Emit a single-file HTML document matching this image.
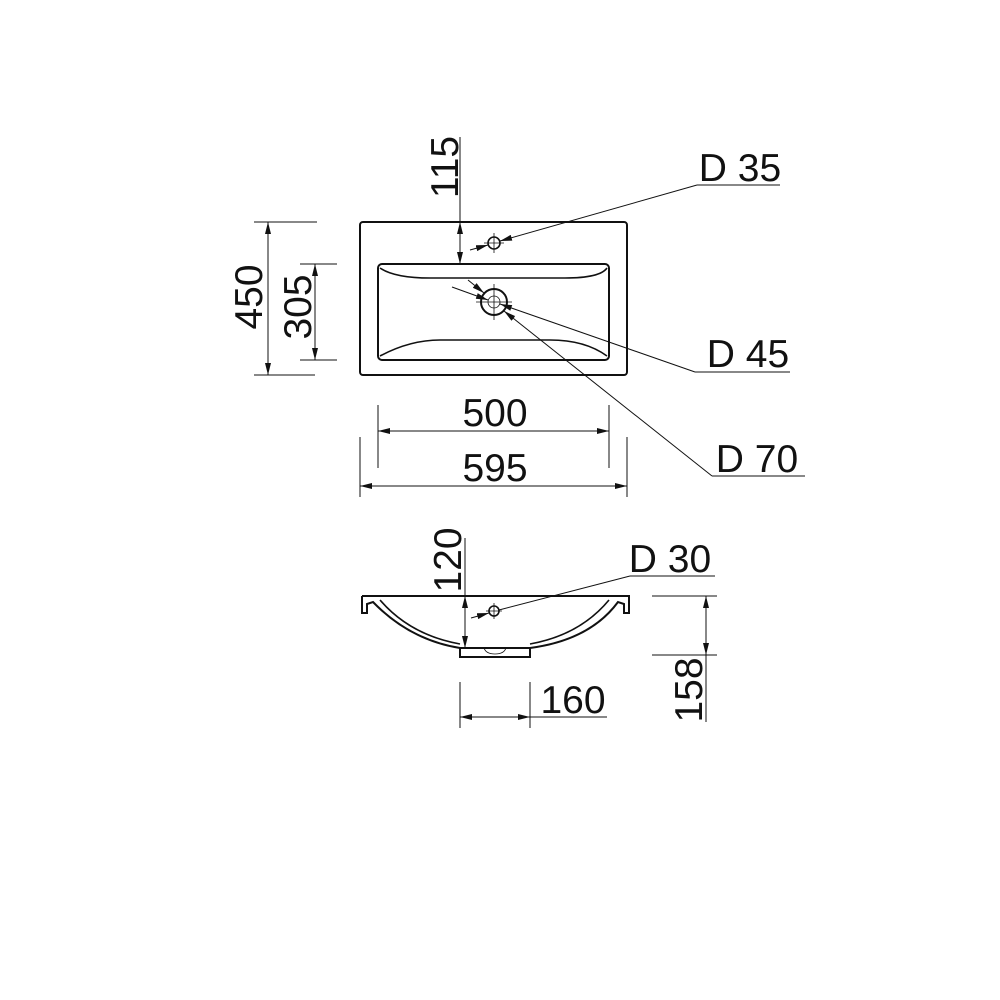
<!DOCTYPE html>
<html><head><style>
html,body{margin:0;padding:0;background:#fff;}
svg{display:block}
text{font-family:"Liberation Sans",sans-serif;fill:#111;}
</style></head><body>
<svg width="1000" height="1000" viewBox="0 0 1000 1000" xmlns="http://www.w3.org/2000/svg">
<defs>
<marker id="a" viewBox="0 0 12 6" refX="12" refY="3" markerWidth="12" markerHeight="6" orient="auto-start-reverse" markerUnits="userSpaceOnUse">
<path d="M0,0 L12,3 L0,6 z" fill="#111"/>
</marker>
</defs>
<g fill="none" stroke="#111">
<!-- top view -->
<rect x="360" y="222" width="267" height="153" rx="3" stroke-width="2"/>
<rect x="378" y="264" width="231" height="96" rx="4" stroke-width="2"/>
<path d="M380,268 Q395,278 430,278 L565,278 Q600,278 607,268" stroke-width="1.6"/>
<path d="M380,356 Q410,340 440,340 L550,340 Q585,340 607,356" stroke-width="1.6"/>
<circle cx="494" cy="243" r="6" stroke-width="1.6"/>
<path d="M484,243 H504 M494,233 V253" stroke-width="0.8"/>
<circle cx="494" cy="302" r="13" stroke-width="2"/>
<circle cx="494" cy="302" r="6" stroke-width="0.8"/>
<path d="M476,302 H512 M494,284 V320" stroke-width="0.8"/>
<!-- 450 -->
<path d="M254,222 H317 M254,375 H315" stroke-width="1"/>
<line x1="268" y1="222" x2="268" y2="375" stroke-width="1" marker-start="url(#a)" marker-end="url(#a)"/>
<!-- 305 -->
<path d="M300,264 H337 M300,360 H337" stroke-width="1"/>
<line x1="315" y1="264" x2="315" y2="360" stroke-width="1" marker-start="url(#a)" marker-end="url(#a)"/>
<!-- 115 -->
<line x1="460" y1="137" x2="460" y2="222" stroke-width="1"/>
<line x1="460" y1="222" x2="460" y2="264" stroke-width="1" marker-start="url(#a)" marker-end="url(#a)"/>
<!-- 500 -->
<path d="M378,405 V468 M609,405 V468" stroke-width="1"/>
<line x1="378" y1="431" x2="609" y2="431" stroke-width="1" marker-start="url(#a)" marker-end="url(#a)"/>
<!-- 595 -->
<path d="M360,437 V497 M627,437 V497" stroke-width="1"/>
<line x1="360" y1="486" x2="627" y2="486" stroke-width="1" marker-start="url(#a)" marker-end="url(#a)"/>
<!-- D35 -->
<path d="M697,185 H780" stroke-width="1"/>
<line x1="697" y1="185" x2="500" y2="241" stroke-width="1" marker-end="url(#a)"/>
<line x1="470" y1="250" x2="488" y2="245" stroke-width="1" marker-end="url(#a)"/>
<!-- D45 -->
<path d="M695,372 H790" stroke-width="1"/>
<line x1="695" y1="372" x2="500" y2="304" stroke-width="1" marker-end="url(#a)"/>
<line x1="452" y1="287" x2="488" y2="300" stroke-width="1" marker-end="url(#a)"/>
<!-- D70 -->
<path d="M712,476 H805" stroke-width="1"/>
<line x1="712" y1="476" x2="504" y2="311" stroke-width="1" marker-end="url(#a)"/>
<line x1="468" y1="280" x2="484" y2="293" stroke-width="1" marker-end="url(#a)"/>
<!-- side view -->
<path d="M362,596 H629 V613 H624 V604 L618,602 Q590,640 530,648 M362,596 V613 H367 V604 L373,602 Q410,640 460,648" stroke-width="2"/>
<path d="M380,600 Q410,635 460,644 M609,600 Q580,635 530,644" stroke-width="1.6"/>
<rect x="460" y="648" width="70" height="9" stroke-width="2"/>
<path d="M484,648 Q486,654 495,654 Q504,654 506,648" stroke-width="0.8"/>
<circle cx="494" cy="611" r="5" stroke-width="1.6"/>
<path d="M486,611 H502 M494,603 V619" stroke-width="0.8"/>
<!-- 120 -->
<line x1="465" y1="538" x2="465" y2="596" stroke-width="1"/>
<line x1="465" y1="596" x2="465" y2="648" stroke-width="1" marker-start="url(#a)" marker-end="url(#a)"/>
<!-- D30 -->
<path d="M630,576 H715" stroke-width="1"/>
<line x1="630" y1="576" x2="499" y2="610" stroke-width="1"/>
<line x1="471" y1="618" x2="489" y2="613" stroke-width="1" marker-end="url(#a)"/>
<!-- 158 -->
<path d="M652,596 H717 M652,655 H717" stroke-width="1"/>
<line x1="706" y1="596" x2="706" y2="655" stroke-width="1" marker-start="url(#a)" marker-end="url(#a)"/>
<line x1="706" y1="655" x2="706" y2="722" stroke-width="1"/>
<!-- 160 -->
<path d="M460,682 V728 M530,682 V728" stroke-width="1"/>
<line x1="460" y1="717" x2="530" y2="717" stroke-width="1" marker-start="url(#a)" marker-end="url(#a)"/>
<line x1="530" y1="717" x2="607" y2="717" stroke-width="1"/>
</g>
<g font-size="39">
<text transform="translate(262,297) rotate(-90)" text-anchor="middle">450</text>
<text transform="translate(311,307) rotate(-90)" text-anchor="middle">305</text>
<text transform="translate(458,167) rotate(-90)" text-anchor="middle">115</text>
<text x="495" y="426" text-anchor="middle">500</text>
<text x="495" y="481" text-anchor="middle">595</text>
<text x="740" y="181" text-anchor="middle">D 35</text>
<text x="748" y="367" text-anchor="middle">D 45</text>
<text x="757" y="472" text-anchor="middle">D 70</text>
<text transform="translate(461,560) rotate(-90)" text-anchor="middle">120</text>
<text x="670" y="572" text-anchor="middle">D 30</text>
<text x="573" y="713" text-anchor="middle">160</text>
<text transform="translate(702,690) rotate(-90)" text-anchor="middle">158</text>
</g>
</svg>
</body></html>
